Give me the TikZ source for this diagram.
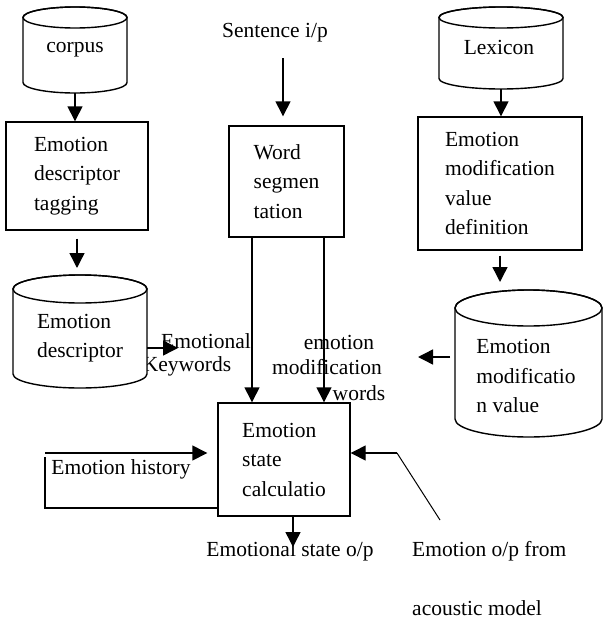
\documentclass[tikz,border=0pt]{standalone}
\usepackage{fontspec}
\setmainfont{Liberation Serif}
\usetikzlibrary{arrows.meta,calc}
\tikzset{
  lbl/.style={font=\fontsize{21.5}{29.5}\selectfont, inner sep=0pt, align=left},
  box/.style={draw, line width=1.4pt, align=left, inner sep=0pt, font=\fontsize{21.5}{29.5}\selectfont},
  hold/.style={inner sep=0pt, outer sep=0pt},
  ln/.style={line width=1.4pt},
  thinln/.style={line width=1pt},
  arr/.style={line width=1.4pt, -{Triangle[length=15pt,width=15pt]}},
}
% cylinder: name, x1, x2, ytop, ybottom, ry
\newcommand{\dbcyl}[6]{%
  \node[hold, minimum width={(#3-#2)*1pt}, minimum height={(#5-#4)*1pt}] (#1) at ({(#2+#3)/2},{(#4+#5)/2}) {};
  \draw[ln, fill=white] (#2,#4+#6) -- (#2,#5-#6)
     arc[start angle=180, end angle=360, x radius={(#3-#2)/2*1pt}, y radius={#6*1pt}]
     -- (#3,#4+#6)
     arc[start angle=0, end angle=180, x radius={(#3-#2)/2*1pt}, y radius={#6*1pt}] -- cycle;
  \draw[ln] ({(#2+#3)/2},#4+#6) ellipse[x radius={(#3-#2)/2*1pt}, y radius={#6*1pt}];
}
\begin{document}
\begin{tikzpicture}[x=1pt,y=-1pt]
\useasboundingbox (0,0) rectangle (603,621);

% ---- left column
\dbcyl{corpus}{23}{127}{7}{93}{10.5}
\node[lbl] (corpusT) at (75,50) {corpus};
\node[box, minimum width=142pt, minimum height=108pt] (tag) at (77,176) {Emotion\\descriptor\\tagging};
\draw[arr] (corpus.south) -- (corpus.south |- tag.north);

\node[lbl] (kw) at (187,366) {Keywords};
\node[lbl] (emo1) at (206,341) {Emotional};
\dbcyl{desc}{13}{147}{275}{388}{14}
\node[lbl] (descT) at (80,338) {Emotion\\descriptor};
\draw[arr, shorten <=8pt, shorten >=7pt] (tag.south) -- (tag.south |- desc.north);
\coordinate (kwtip) at (178,348);
\draw[arr] (desc.east |- kwtip) -- (kwtip);

% ---- middle column
\node[lbl] (sent) at (275,33) {Sentence i/p};
\node[box, minimum width=115pt, minimum height=111pt] (ws) at (286.5,181.5) {Word\\segmen\\tation};
\coordinate (sIn) at (283,58);
\draw[arr, shorten >=9pt] (sIn) -- (sIn |- ws.north);

\node[box, minimum width=132pt, minimum height=113pt] (calc) at (284,459.5) {Emotion\\state\\calculatio};

\node[lbl] (mw1) at (339,342) {emotion};
\node[lbl] (mw2) at (327,367) {modification};
\node[lbl] (mw3) at (359,393) {words};
\draw[arr] ([xshift=-34.5pt]ws.south) -- ([xshift=-34.5pt]ws.south |- calc.north);
\draw[arr] ([xshift=37.5pt]ws.south) -- ([xshift=37.5pt]ws.south |- calc.north);

% ---- right column
\dbcyl{lex}{439}{563}{7}{89}{10.5}
\node[lbl] (lexT) at (499,47) {Lexicon};
\node[box, minimum width=164pt, minimum height=133pt] (mod) at (500,183.5) {Emotion\\modification\\value\\definition};
\draw[arr] (lex.south) -- (lex.south |- mod.north);
\dbcyl{mv}{455}{602}{290}{437}{18}
\node[lbl] (mvT) at (526,376) {Emotion\\modificatio\\n value};
\draw[arr, shorten <=5pt, shorten >=8pt] (mod.south) -- (mod.south |- mv.north);
\coordinate (mvtip) at (418,357);
\draw[arr, shorten <=5pt] (mv.west |- mvtip) -- (mvtip);

% ---- emotion history loop
\node[lbl] (hist) at (121,469) {Emotion history};
\coordinate (h1) at (45,453);
\coordinate (h2) at (45,457);
\coordinate (h3) at (45,508);
\draw[arr, shorten >=10pt] (h1) -- (h1 -| calc.west);
\draw[ln] (h2) -- (h3) -- (h3 -| calc.west);

% ---- output
\node[lbl] (out) at (290,551) {Emotional state o/p};
\coordinate (otip) at (293,547);
\draw[arr] (calc.south -| otip) -- (otip);

% ---- acoustic input
\node[lbl, anchor=west] (ac) at (412,551) {Emotion o/p from};
\node[lbl, anchor=west] (acm) at (412,608) {acoustic model};
\coordinate (a1) at (440,520);
\coordinate (a2) at (397,453);
\draw[thinln] (a1) -- (a2);
\draw[arr] (a2) -- (calc.east |- a2);
\end{tikzpicture}
\end{document}
